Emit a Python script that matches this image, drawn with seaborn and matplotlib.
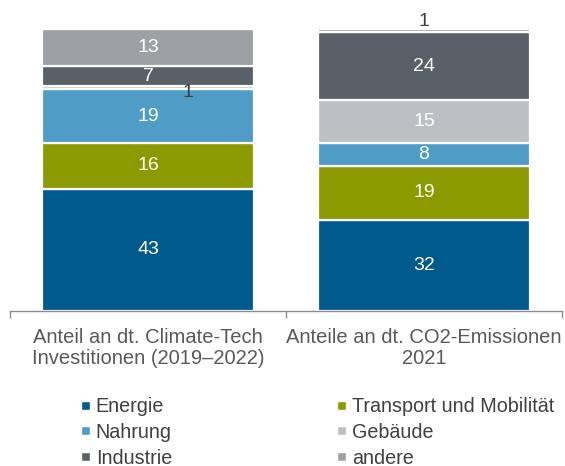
import matplotlib
matplotlib.use("Agg")
import matplotlib.pyplot as plt
from matplotlib.lines import Line2D
import seaborn as sns
import pandas as pd
import numpy as np

categories = ["Anteil an dt. Climate-Tech\nInvestitionen (2019–2022)",
              "Anteile an dt. CO2-Emissionen\n2021"]
segments = ["Energie", "Transport und Mobilität", "Nahrung", "Gebäude", "Industrie", "andere"]
investitionen = [43, 16, 19, 1, 7, 13]
emissionen = [32, 19, 8, 15, 24, 1]
colors = ["#005A8C", "#8A9A00", "#4F9DC6", "#BDC0C3", "#5A6068", "#9EA1A4"]

sns.set_theme(style="white")
plt.rcParams["font.family"] = ["Liberation Sans", "DejaVu Sans"]

fig = plt.figure(figsize=(5.65, 4.66), dpi=100)
ax = fig.add_axes([10/565, 1-311/466, 552/565, 301.6/466])

values = np.array([investitionen, emissionen])  # shape (2, 6)
bottoms = np.zeros(2)
handles = []
for i, seg in enumerate(segments):
    df = pd.DataFrame({"Kategorie": categories, "Wert": values[:, i]})
    sns.barplot(data=df, x="Kategorie", y="Wert", order=categories, color=colors[i],
                width=0.765, bottom=bottoms.copy(), edgecolor="white", linewidth=1.6,
                saturation=1, ax=ax)
    for j in range(2):
        v = values[j, i]
        center = bottoms[j] + v / 2
        if v > 1:
            ax.text(j, center, str(v), ha="center", va="center", color="white", fontsize=14)
        elif i == len(segments) - 1:
            ax.annotate(str(v), (j, bottoms[j] + v), xytext=(0, 5.5), textcoords="offset points",
                        ha="center", va="center", color="#404040", fontsize=14)
        else:
            ax.annotate(str(v), (j + 0.145, center), xytext=(0, -3.5), textcoords="offset points",
                        ha="center", va="center", color="#404040", fontsize=14)
    bottoms = bottoms + values[:, i]
    handles.append(Line2D([], [], marker="s", linestyle="none", markersize=6,
                          markerfacecolor=colors[i], markeredgecolor="white", markeredgewidth=0.3))

ax.set_xlim(-0.5, 1.5)
ax.set_ylim(0, 106)
ax.set_xlabel("")
ax.set_ylabel("")
ax.set_yticks([])
ax.set_xticks([0, 1])
ax.set_xticklabels(categories, fontsize=14.5, color="#595959", linespacing=1.15)
ax.set_xticks([-0.5, 0.5, 1.5], minor=True)
ax.tick_params(axis="x", which="major", length=0, pad=12)
ax.tick_params(axis="x", which="minor", length=5, width=1, color="#8C8C8C", direction="out", bottom=True)
for s in ["top", "left", "right"]:
    ax.spines[s].set_visible(False)
ax.spines["bottom"].set_color("#8C8C8C")
ax.spines["bottom"].set_linewidth(1)

leg_kw = dict(loc="upper left", frameon=False, fontsize=14.2, handlelength=0.5,
              handletextpad=0.25, labelspacing=0.33, borderpad=0, borderaxespad=0)
col1 = [0, 2, 4]
col2 = [1, 3, 5]
leg1 = fig.legend([handles[k] for k in col1], [segments[k] for k in col1],
                  bbox_to_anchor=(81/565, 1-397.5/466), **leg_kw)
leg2 = fig.legend([handles[k] for k in col2], [segments[k] for k in col2],
                  bbox_to_anchor=(337/565, 1-397.5/466), **leg_kw)
for leg in (leg1, leg2):
    for t in leg.get_texts():
        t.set_color("#404040")

fig.savefig("out.png", dpi=100)
